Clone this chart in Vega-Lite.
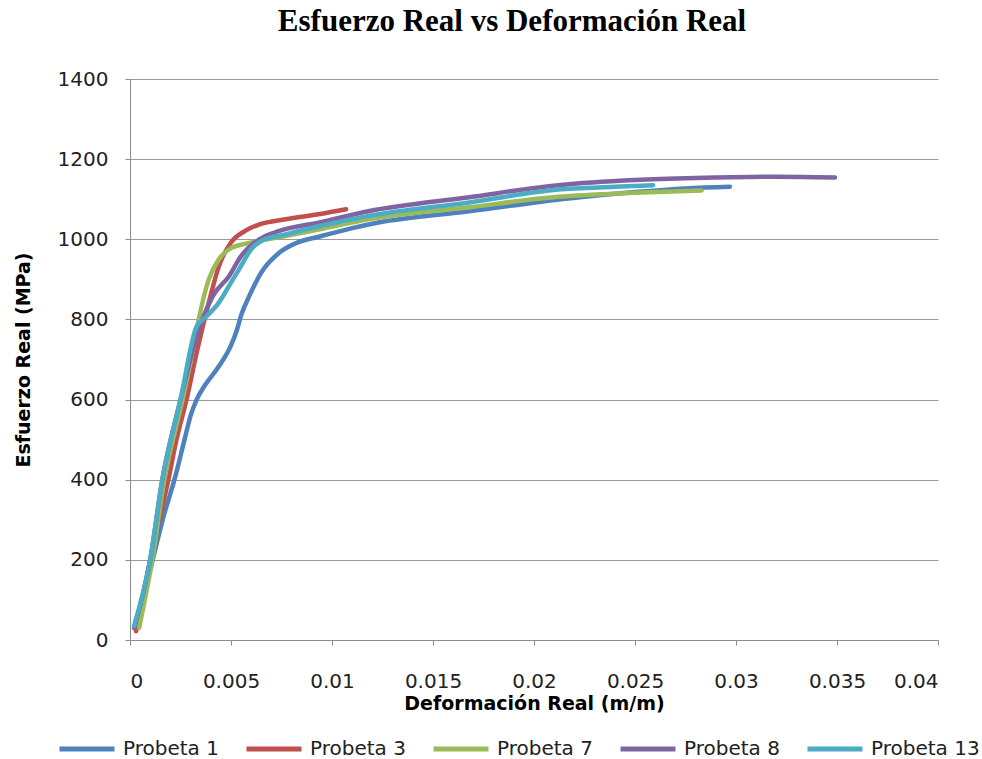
{
  "$schema": "https://vega.github.io/schema/vega-lite/v6.json",
  "width": 808,
  "height": 561,
  "autosize": {"type": "none"},
  "padding": {"left": 130, "top": 79, "right": 44, "bottom": 119},
  "background": "white",
  "title": {
    "text": "Esfuerzo Real vs Deformación Real",
    "font": "Liberation Serif",
    "fontWeight": "bold",
    "fontSize": 31,
    "color": "#000000",
    "anchor": "middle",
    "frame": "group",
    "dx": -22,
    "offset": 31
  },
  "config": {
    "view": {"stroke": null},
    "axis": {
      "labelFont": "DejaVu Sans",
      "labelFontSize": 20,
      "labelColor": "#222222",
      "titleFont": "DejaVu Sans",
      "titleFontSize": 19,
      "titleFontWeight": "bold",
      "titleColor": "#000000",
      "domainColor": "#8c8c8c",
      "tickColor": "#8c8c8c",
      "gridColor": "#9a9a9a",
      "tickSize": 5
    }
  },
  "data": {
    "values": [
      {"serie": "Probeta 1", "def": 0.0003, "esf": 25},
      {"serie": "Probeta 1", "def": 0.0011, "esf": 195},
      {"serie": "Probeta 1", "def": 0.0017, "esf": 315},
      {"serie": "Probeta 1", "def": 0.0022, "esf": 400},
      {"serie": "Probeta 1", "def": 0.0027, "esf": 500},
      {"serie": "Probeta 1", "def": 0.0030, "esf": 560},
      {"serie": "Probeta 1", "def": 0.0033, "esf": 600},
      {"serie": "Probeta 1", "def": 0.0037, "esf": 635},
      {"serie": "Probeta 1", "def": 0.0044, "esf": 683},
      {"serie": "Probeta 1", "def": 0.0050, "esf": 735},
      {"serie": "Probeta 1", "def": 0.0053, "esf": 775},
      {"serie": "Probeta 1", "def": 0.0055, "esf": 810},
      {"serie": "Probeta 1", "def": 0.0059, "esf": 858},
      {"serie": "Probeta 1", "def": 0.0065, "esf": 917},
      {"serie": "Probeta 1", "def": 0.0074, "esf": 967},
      {"serie": "Probeta 1", "def": 0.0082, "esf": 990},
      {"serie": "Probeta 1", "def": 0.0094, "esf": 1007},
      {"serie": "Probeta 1", "def": 0.0110, "esf": 1028},
      {"serie": "Probeta 1", "def": 0.0123, "esf": 1042},
      {"serie": "Probeta 1", "def": 0.0168, "esf": 1070},
      {"serie": "Probeta 1", "def": 0.0217, "esf": 1102},
      {"serie": "Probeta 1", "def": 0.0250, "esf": 1118},
      {"serie": "Probeta 1", "def": 0.0275, "esf": 1127},
      {"serie": "Probeta 1", "def": 0.0297, "esf": 1131},

      {"serie": "Probeta 3", "def": 0.0003, "esf": 22},
      {"serie": "Probeta 3", "def": 0.0010, "esf": 200},
      {"serie": "Probeta 3", "def": 0.0019, "esf": 400},
      {"serie": "Probeta 3", "def": 0.0023, "esf": 500},
      {"serie": "Probeta 3", "def": 0.0028, "esf": 600},
      {"serie": "Probeta 3", "def": 0.0033, "esf": 717},
      {"serie": "Probeta 3", "def": 0.0039, "esf": 842},
      {"serie": "Probeta 3", "def": 0.0044, "esf": 933},
      {"serie": "Probeta 3", "def": 0.0050, "esf": 992},
      {"serie": "Probeta 3", "def": 0.0057, "esf": 1021},
      {"serie": "Probeta 3", "def": 0.0064, "esf": 1037},
      {"serie": "Probeta 3", "def": 0.0077, "esf": 1050},
      {"serie": "Probeta 3", "def": 0.0094, "esf": 1063},
      {"serie": "Probeta 3", "def": 0.0107, "esf": 1075},

      {"serie": "Probeta 7", "def": 0.00045, "esf": 30},
      {"serie": "Probeta 7", "def": 0.0011, "esf": 200},
      {"serie": "Probeta 7", "def": 0.0017, "esf": 400},
      {"serie": "Probeta 7", "def": 0.0026, "esf": 600},
      {"serie": "Probeta 7", "def": 0.0031, "esf": 720},
      {"serie": "Probeta 7", "def": 0.0034, "esf": 800},
      {"serie": "Probeta 7", "def": 0.0039, "esf": 900},
      {"serie": "Probeta 7", "def": 0.0044, "esf": 950},
      {"serie": "Probeta 7", "def": 0.0050, "esf": 978},
      {"serie": "Probeta 7", "def": 0.0060, "esf": 992},
      {"serie": "Probeta 7", "def": 0.0077, "esf": 1008},
      {"serie": "Probeta 7", "def": 0.0094, "esf": 1025},
      {"serie": "Probeta 7", "def": 0.0118, "esf": 1050},
      {"serie": "Probeta 7", "def": 0.0168, "esf": 1080},
      {"serie": "Probeta 7", "def": 0.0212, "esf": 1106},
      {"serie": "Probeta 7", "def": 0.0250, "esf": 1116},
      {"serie": "Probeta 7", "def": 0.0283, "esf": 1122},

      {"serie": "Probeta 8", "def": 0.0002, "esf": 30},
      {"serie": "Probeta 8", "def": 0.0010, "esf": 200},
      {"serie": "Probeta 8", "def": 0.0016, "esf": 400},
      {"serie": "Probeta 8", "def": 0.0025, "esf": 600},
      {"serie": "Probeta 8", "def": 0.0033, "esf": 758},
      {"serie": "Probeta 8", "def": 0.0041, "esf": 858},
      {"serie": "Probeta 8", "def": 0.0049, "esf": 908},
      {"serie": "Probeta 8", "def": 0.0055, "esf": 958},
      {"serie": "Probeta 8", "def": 0.0064, "esf": 1000},
      {"serie": "Probeta 8", "def": 0.0074, "esf": 1021},
      {"serie": "Probeta 8", "def": 0.0094, "esf": 1042},
      {"serie": "Probeta 8", "def": 0.0118, "esf": 1070},
      {"serie": "Probeta 8", "def": 0.0168, "esf": 1105},
      {"serie": "Probeta 8", "def": 0.0212, "esf": 1135},
      {"serie": "Probeta 8", "def": 0.0250, "esf": 1148},
      {"serie": "Probeta 8", "def": 0.0280, "esf": 1153},
      {"serie": "Probeta 8", "def": 0.0320, "esf": 1156},
      {"serie": "Probeta 8", "def": 0.0349, "esf": 1154},

      {"serie": "Probeta 13", "def": 0.0002, "esf": 35},
      {"serie": "Probeta 13", "def": 0.0010, "esf": 200},
      {"serie": "Probeta 13", "def": 0.0016, "esf": 400},
      {"serie": "Probeta 13", "def": 0.0025, "esf": 600},
      {"serie": "Probeta 13", "def": 0.0033, "esf": 783},
      {"serie": "Probeta 13", "def": 0.0038, "esf": 808},
      {"serie": "Probeta 13", "def": 0.0044, "esf": 842},
      {"serie": "Probeta 13", "def": 0.0050, "esf": 892},
      {"serie": "Probeta 13", "def": 0.0054, "esf": 925},
      {"serie": "Probeta 13", "def": 0.0060, "esf": 975},
      {"serie": "Probeta 13", "def": 0.0065, "esf": 996},
      {"serie": "Probeta 13", "def": 0.0077, "esf": 1012},
      {"serie": "Probeta 13", "def": 0.0094, "esf": 1033},
      {"serie": "Probeta 13", "def": 0.0118, "esf": 1058},
      {"serie": "Probeta 13", "def": 0.0168, "esf": 1092},
      {"serie": "Probeta 13", "def": 0.0212, "esf": 1124},
      {"serie": "Probeta 13", "def": 0.0240, "esf": 1131},
      {"serie": "Probeta 13", "def": 0.0259, "esf": 1135}
    ]
  },
  "mark": {"type": "line", "strokeWidth": 4.5, "strokeCap": "round", "strokeJoin": "round", "interpolate": "monotone"},
  "encoding": {
    "x": {
      "field": "def",
      "type": "quantitative",
      "title": "Deformación Real (m/m)",
      "scale": {"domain": [0, 0.04], "nice": false, "zero": false},
      "axis": {
        "values": [0, 0.005, 0.01, 0.015, 0.02, 0.025, 0.03, 0.035, 0.04],
        "format": "~g",
        "grid": false,
        "labelPadding": 26,
        "titlePadding": 3
      }
    },
    "y": {
      "field": "esf",
      "type": "quantitative",
      "title": "Esfuerzo Real (MPa)",
      "scale": {"domain": [0, 1400], "nice": false},
      "axis": {
        "values": [0, 200, 400, 600, 800, 1000, 1200, 1400],
        "format": "d",
        "grid": true,
        "labelPadding": 17,
        "titlePadding": 24
      }
    },
    "color": {
      "field": "serie",
      "type": "nominal",
      "scale": {
        "domain": ["Probeta 1", "Probeta 3", "Probeta 7", "Probeta 8", "Probeta 13"],
        "range": ["#4F81BD", "#C0504D", "#9BBB59", "#8064A2", "#4BACC6"]
      },
      "legend": {
        "title": null,
        "orient": "none",
        "legendX": -73,
        "legendY": 640,
        "direction": "horizontal",
        "symbolType": "stroke",
        "symbolSize": 3025,
        "symbolStrokeWidth": 5,
        "labelFont": "DejaVu Sans",
        "labelFontSize": 20,
        "labelColor": "#222222",
        "labelOffset": 6,
        "columnPadding": 4,
        "gridAlign": "all",
        "labelLimit": 200
      }
    }
  }
}
